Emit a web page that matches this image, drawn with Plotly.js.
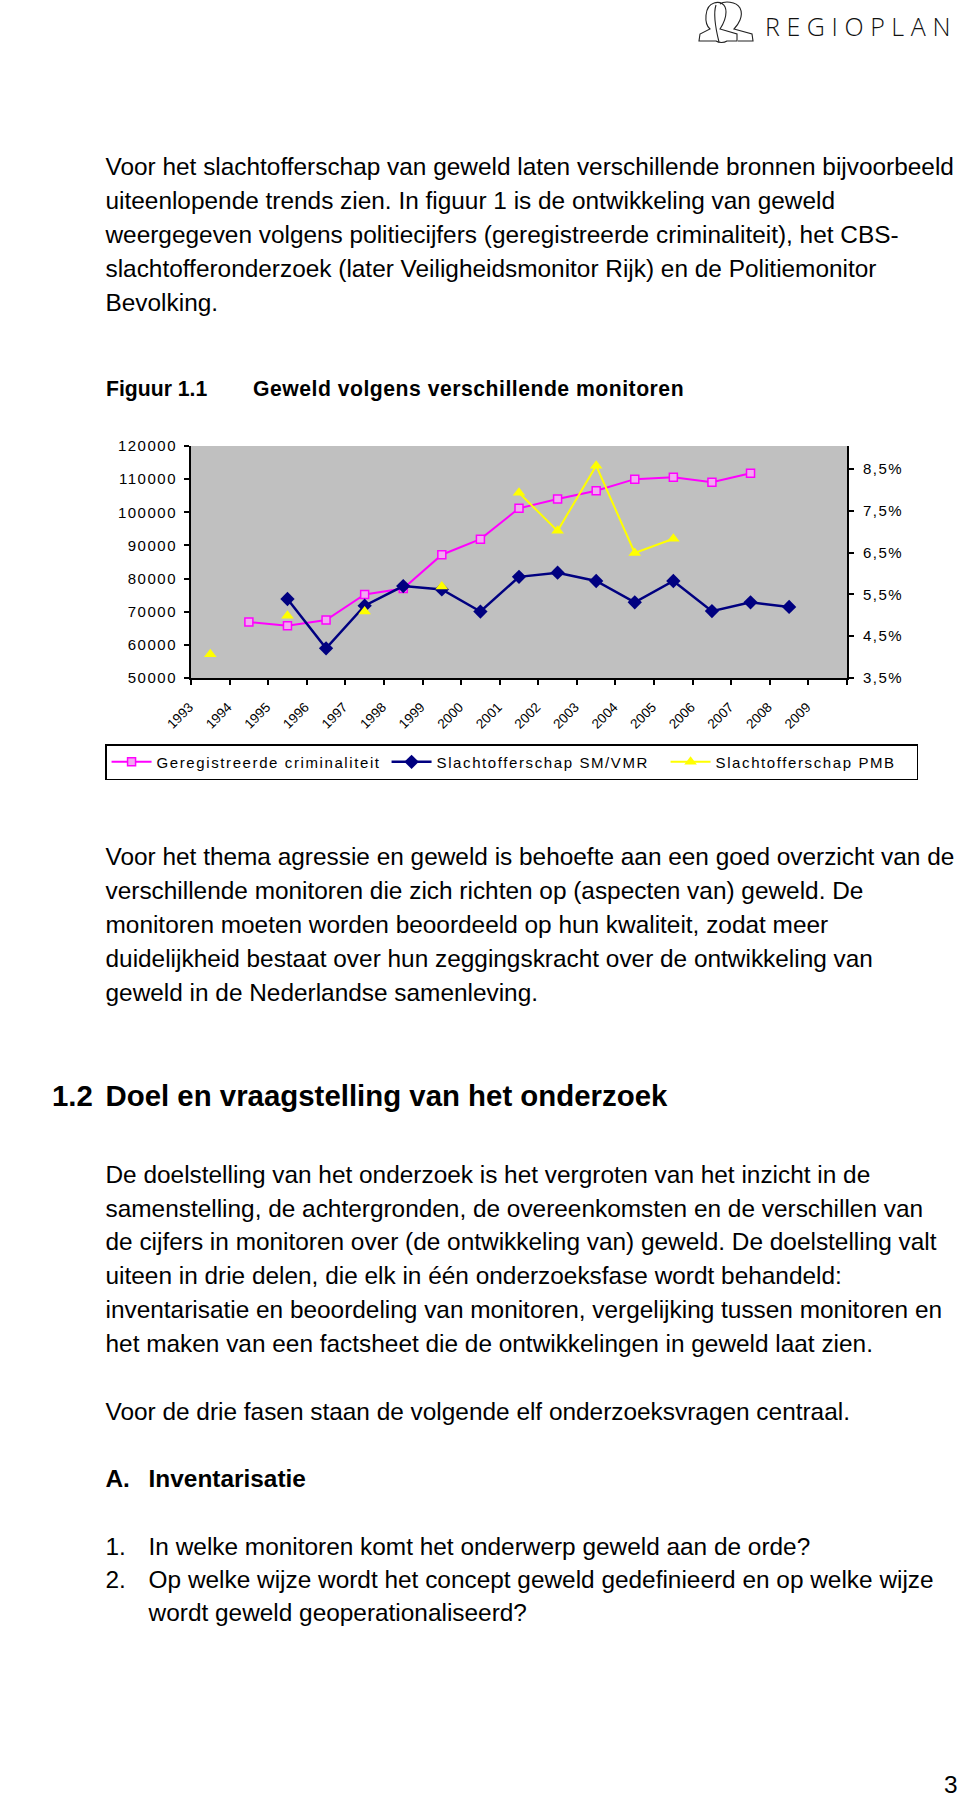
<!DOCTYPE html>
<html><head><meta charset="utf-8">
<script src="https://cdn.plot.ly/plotly-3.0.1.min.js"></script>
<style>
body{margin:0;background:#fff;width:960px;height:1798px;position:relative;overflow:hidden;font-family:"Liberation Sans",Arial,sans-serif;color:#000}
.t{position:absolute;white-space:nowrap;font-size:24.4px;line-height:34.2px;left:105.5px}
.b{font-weight:bold}
#chart{position:absolute;left:0;top:420px;width:960px;height:380px}
.ytick text,.y2tick text{letter-spacing:1.5px}
.legendtext{letter-spacing:1.6px}
#logo{position:absolute;left:694px;top:0;width:80px;height:46px}
#logotext{position:absolute;left:765px;top:9px;font-family:"Open Sans","DejaVu Sans",sans-serif;font-weight:300;font-size:25px;letter-spacing:6.6px;line-height:34px;color:#111}
</style></head><body>

<svg id="logo" width="80" height="46" viewBox="0 0 80 46">
 <g fill="none" stroke="#222" stroke-width="1.1">
  <path d="M16,29 C10,24 10,6 20,3 C26,1 32,4 32,12 C32,20 28,26 26,29 L43,34 L43,41 L33,41 C30,43 25,43 22,41 L5,41 L6,34 Z"/>
  <path d="M26,4 C30,1 42,1 46,8 C50,16 44,25 40,29 L58,34 L59,41 L44,41"/>
  <path d="M22,5 C19,14 22,30 25,42"/>
 </g>
</svg>
<div id="logotext">REGIOPLAN</div>

<div class="t" style="top:149.6px">Voor het slachtofferschap van geweld laten verschillende bronnen bijvoorbeeld<br>uiteenlopende trends zien. In figuur 1 is de ontwikkeling van geweld<br>weergegeven volgens politiecijfers (geregistreerde criminaliteit), het CBS-<br>slachtofferonderzoek (later Veiligheidsmonitor Rijk) en de Politiemonitor<br>Bevolking.</div>

<div class="t b" style="top:376.5px;font-size:21.2px;line-height:24.6px;left:106px">Figuur 1.1</div>
<div class="t b" style="top:376.5px;font-size:21.2px;line-height:24.6px;left:253px;letter-spacing:0.5px">Geweld volgens verschillende monitoren</div>

<div id="chart"></div>

<div class="t" style="top:839.6px">Voor het thema agressie en geweld is behoefte aan een goed overzicht van de<br>verschillende monitoren die zich richten op (aspecten van) geweld. De<br>monitoren moeten worden beoordeeld op hun kwaliteit, zodat meer<br>duidelijkheid bestaat over hun zeggingskracht over de ontwikkeling van<br>geweld in de Nederlandse samenleving.</div>

<div class="t b" style="top:1078px;font-size:29.4px;line-height:36px;left:52px">1.2</div>
<div class="t b" style="top:1078px;font-size:29.4px;line-height:36px">Doel en vraagstelling van het onderzoek</div>

<div class="t" style="top:1158px;line-height:33.7px">De doelstelling van het onderzoek is het vergroten van het inzicht in de<br>samenstelling, de achtergronden, de overeenkomsten en de verschillen van<br>de cijfers in monitoren over (de ontwikkeling van) geweld. De doelstelling valt<br>uiteen in drie delen, die elk in één onderzoeksfase wordt behandeld:<br>inventarisatie en beoordeling van monitoren, vergelijking tussen monitoren en<br>het maken van een factsheet die de ontwikkelingen in geweld laat zien.</div>

<div class="t" style="top:1394.6px">Voor de drie fasen staan de volgende elf onderzoeksvragen centraal.</div>

<div class="t b" style="top:1462.2px">A.</div>
<div class="t b" style="top:1462.2px;left:148.6px">Inventarisatie</div>

<div class="t" style="top:1531.2px;line-height:32.7px">1.<br>2.</div>
<div class="t" style="top:1531.2px;line-height:32.7px;left:148.6px">In welke monitoren komt het onderwerp geweld aan de orde?<br>Op welke wijze wordt het concept geweld gedefinieerd en op welke wijze<br>wordt geweld geoperationaliseerd?</div>

<div class="t" style="top:1768px;left:944px">3</div>

<script>
const years = ['1993','1994','1995','1996','1997','1998','1999','2000','2001','2002','2003','2004','2005','2006','2007','2008','2009'];
const geregistreerd = [null, 66900, 65800, 67500, 75200, 77000, 87200, 91900, 101200, 104000, 106500, 110000, 110600, 109100, 111800, null, null];
const slachtofferSMVMR = [null, null, 5.39, 4.21, 5.23, 5.70, 5.62, 5.09, 5.92, 6.02, 5.82, 5.31, 5.82, 5.10, 5.31, 5.20, null];
const slachtofferPMB = [4.07, null, 4.99, null, 5.09, null, 5.69, null, 7.93, 7.02, 8.58, 6.49, 6.83, null, null, null, null];
const leftTicks = [50000, 60000, 70000, 80000, 90000, 100000, 110000, 120000];
const pctTickVals = [3.5, 4.5, 5.5, 6.5, 7.5, 8.5];
const pctTickText = ['3,5%', '4,5%', '5,5%', '6,5%', '7,5%', '8,5%'];
const seriesNames = ['Geregistreerde criminaliteit', 'Slachtofferschap SM/VMR', 'Slachtofferschap PMB'];

const leftRange = [50000, 120000];
const rightRange = [3.5, 9.05];
const catRange = [-0.5, years.length - 0.5];
const boundaries = years.map((_, i) => i - 0.5).concat([years.length - 0.5]);

const traces = [
  {x: years, y: geregistreerd, name: seriesNames[0], type: 'scatter', mode: 'lines+markers', connectgaps: false,
   xaxis: 'x', yaxis: 'y', legendwidth: 225,
   line: {color: '#ff00ff', width: 2},
   marker: {symbol: 'square', size: 8, color: '#f2a8f2', line: {color: '#ff00ff', width: 1.5}}},
  {x: years, y: slachtofferSMVMR, name: seriesNames[1], type: 'scatter', mode: 'lines+markers', connectgaps: false,
   xaxis: 'x', yaxis: 'y2', legendwidth: 224,
   line: {color: '#000080', width: 2.5},
   marker: {symbol: 'diamond', size: 11, color: '#000080'}},
  {x: years, y: slachtofferPMB, name: seriesNames[2], type: 'scatter', mode: 'lines+markers', connectgaps: false,
   xaxis: 'x', yaxis: 'y2', legendwidth: 196,
   line: {color: '#ffff00', width: 2},
   marker: {symbol: 'triangle-up', size: 11, color: '#ffff00'}}
];

const noGrid = {showgrid: false, zeroline: false, fixedrange: true};
const layout = {
  width: 960, height: 380,
  margin: {l: 191, r: 113, t: 26, b: 122, pad: 0},
  paper_bgcolor: '#ffffff', plot_bgcolor: '#c0c0c0',
  font: {family: 'Liberation Sans, Arial, sans-serif', size: 15, color: '#000'},
  showlegend: true,
  legend: {orientation: 'h', x: -0.131, xanchor: 'left', y: -0.285, yanchor: 'top',
           bordercolor: '#000', borderwidth: 1.5, bgcolor: '#fff', font: {size: 15}, itemwidth: 40, traceorder: 'normal'},
  xaxis: Object.assign({type: 'category', categoryorder: 'array', categoryarray: years, range: catRange,
           tickson: 'boundaries', ticks: 'outside', ticklen: 5, tickwidth: 2, tickcolor: '#000',
           showline: true, linecolor: '#000', linewidth: 2, tickangle: -45, ticklabelshift: -21, ticklabelstandoff: 14,
           tickfont: {family: 'Liberation Sans Narrow, Liberation Sans, Arial', size: 13.5}}, noGrid),
  xaxis2: Object.assign({overlaying: 'x', anchor: 'y', side: 'bottom', range: catRange, tickmode: 'array', tickvals: boundaries,
           ticks: 'inside', ticklen: 5, tickwidth: 2, tickcolor: '#000', showticklabels: false, showline: false}, noGrid),
  xaxis3: Object.assign({overlaying: 'x', anchor: 'y', side: 'top', range: [0, 1], showline: true, linecolor: '#808080',
           linewidth: 1, ticks: '', showticklabels: false}, noGrid),
  yaxis: Object.assign({range: leftRange, tickmode: 'array', tickvals: leftTicks, tickformat: 'd',
           ticks: 'outside', ticklen: 5, tickwidth: 2, tickcolor: '#000', showline: true, linecolor: '#000', linewidth: 2,
           ticklabelstandoff: 4, tickfont: {size: 15}}, noGrid),
  yaxis2: Object.assign({overlaying: 'y', anchor: 'x', side: 'right', range: rightRange, tickmode: 'array',
           tickvals: pctTickVals, ticktext: pctTickText, ticks: 'outside', ticklen: 5, tickwidth: 2, tickcolor: '#000',
           showline: true, linecolor: '#000', linewidth: 2, ticklabelstandoff: 6, tickfont: {size: 15}}, noGrid),
  yaxis3: Object.assign({overlaying: 'y', anchor: 'x', side: 'left', range: leftRange, tickmode: 'array', tickvals: leftTicks,
           ticks: 'inside', ticklen: 5, tickwidth: 2, tickcolor: '#000', showticklabels: false, showline: false}, noGrid),
  yaxis4: Object.assign({overlaying: 'y', anchor: 'x', side: 'right', range: rightRange, tickmode: 'array', tickvals: pctTickVals,
           ticks: 'inside', ticklen: 5, tickwidth: 2, tickcolor: '#000', showticklabels: false, showline: false}, noGrid)
};

Plotly.newPlot('chart', traces, layout, {displayModeBar: false, staticPlot: true});
</script>
</body></html>
